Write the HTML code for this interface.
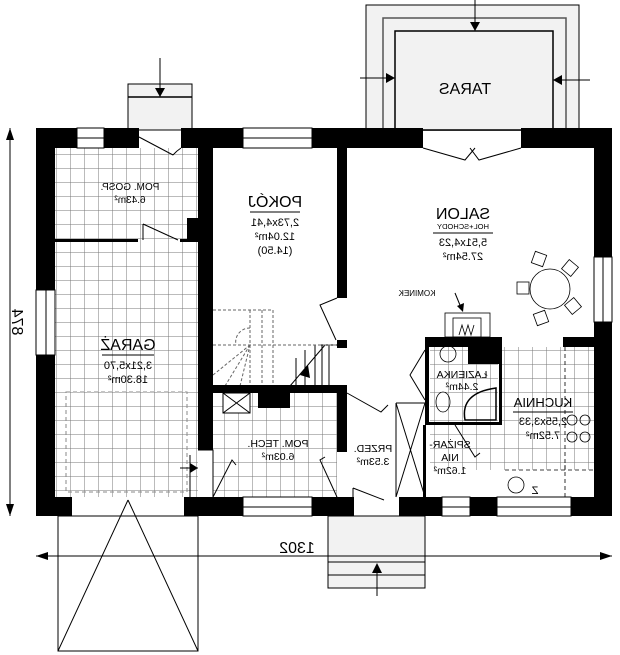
<!DOCTYPE html>
<html><head><meta charset="utf-8"><style>
html,body{margin:0;padding:0;background:#fff;}
svg{display:block;}
text{font-family:"Liberation Sans",sans-serif;fill:#000;}
</style></head><body>
<svg width="620" height="655" viewBox="0 0 620 655" xmlns="http://www.w3.org/2000/svg">
<defs>
<pattern id="g" width="14" height="14" patternUnits="userSpaceOnUse">
<rect width="14" height="14" fill="#fff"/>
<path d="M0 0H14M0 0V14" stroke="#777" stroke-width="1"/>
</pattern>
</defs>
<!-- terrace -->
<rect x="366" y="5" width="213" height="125" fill="#f2f2f2" stroke="#000" stroke-width="1"/>
<rect x="383" y="18" width="183" height="112" fill="#f2f2f2" stroke="#555" stroke-width="1.5"/>
<rect x="395" y="31" width="158" height="99" fill="#f2f2f2" stroke="#000" stroke-width="1.5"/>
<line x1="475" y1="0" x2="475" y2="31" stroke="#000"/><path d="M470 22L480 22L475 31Z"/>
<line x1="360" y1="78" x2="395" y2="78" stroke="#000"/><path d="M386 73L395 78L386 83Z"/>
<line x1="590" y1="80" x2="553" y2="80" stroke="#000"/><path d="M562 75L553 80L562 85Z"/>
<g transform="translate(465,94) scale(-1,1)"><text x="0" y="0" font-size="16" text-anchor="middle">TARAS</text></g>
<!-- back step -->
<rect x="128" y="84" width="64" height="46" fill="#f2f2f2" stroke="#000"/>
<line x1="128" y1="97" x2="192" y2="97" stroke="#000" stroke-width="1.5"/>
<line x1="160" y1="58" x2="160" y2="97" stroke="#000"/><path d="M155 88L165 88L160 97Z"/>
<!-- front step -->
<rect x="328" y="516" width="97" height="72" fill="#f2f2f2" stroke="#000"/>
<line x1="328" y1="562" x2="425" y2="562" stroke="#000"/>
<line x1="328" y1="575" x2="425" y2="575" stroke="#000"/>
<line x1="377" y1="596" x2="377" y2="564" stroke="#000"/><path d="M372 573L382 573L377 563Z"/>
<!-- carport -->
<rect x="58" y="516" width="140" height="135" fill="none" stroke="#000"/>
<path d="M128 500L58 651M128 500L198 651" stroke="#000" fill="none"/>
<!-- floors -->
<rect x="55" y="148" width="143" height="349" fill="url(#g)"/>
<rect x="213" y="393" width="124" height="104" fill="url(#g)"/>
<rect x="430" y="347" width="68" height="75" fill="url(#g)"/>
<rect x="501" y="347" width="93" height="123" fill="url(#g)"/>
<rect x="430" y="425" width="71" height="45" fill="url(#g)"/>
<rect x="66" y="392" width="121" height="100" fill="none" stroke="#888" stroke-dasharray="4,3"/>
<!-- stairs -->
<g stroke="#000" stroke-width="1" fill="none">
<path d="M315 345V386M322 345V386M329 345V386M305 350V386M296 358V386"/>
<path d="M290 386L325 345M320 345H347"/>
</g>
<path d="M300 375L308 365L310 378Z"/>
<g stroke="#666" stroke-dasharray="3,2" fill="none">
<path d="M213 310H273V386M213 345H337M250 310V386M262 310V386"/>
<path d="M250 328A14 14 0 0 0 236 345"/>
<path d="M213 375L250 345M225 386L250 345M240 386L250 345"/>
</g>
<!-- walls -->
<g fill="#000">
<rect x="36" y="128" width="41" height="20"/><rect x="104" y="128" width="35" height="20"/>
<rect x="181" y="128" width="62" height="20"/><rect x="312" y="128" width="111" height="20"/>
<rect x="521" y="128" width="91" height="20"/>
<rect x="36" y="128" width="19" height="162"/><rect x="36" y="355" width="19" height="161"/>
<rect x="594" y="128" width="18" height="129"/><rect x="594" y="322" width="18" height="194"/>
<rect x="36" y="497" width="36" height="19"/><rect x="184" y="497" width="59" height="19"/>
<rect x="312" y="497" width="42" height="19"/><rect x="399" y="497" width="43" height="19"/>
<rect x="470" y="497" width="27" height="19"/><rect x="571" y="497" width="41" height="19"/>
<rect x="198" y="148" width="15" height="302"/>
<rect x="187" y="218" width="11" height="22"/>
<rect x="337" y="148" width="10" height="150"/>
<rect x="337" y="340" width="10" height="8"/>
<rect x="213" y="385" width="134" height="8"/>
<rect x="337" y="385" width="10" height="67"/>
<rect x="258" y="393" width="32" height="15"/>
<rect x="425" y="337" width="76" height="10"/><rect x="468" y="337" width="33" height="27"/>
<rect x="425" y="337" width="4" height="88"/><rect x="499" y="337" width="3" height="88"/>
<rect x="425" y="422" width="77" height="3"/>
<rect x="563" y="337" width="31" height="10"/>
<rect x="423" y="425" width="3" height="72"/>
<rect x="55" y="239" width="83" height="3"/><rect x="180" y="239" width="18" height="3"/>
</g>
<!-- windows -->
<g fill="#fff" stroke="#000" stroke-width="1">
<rect x="77" y="128" width="27" height="20"/><line x1="77" y1="138" x2="104" y2="138"/>
<rect x="243" y="128" width="69" height="20"/><line x1="243" y1="138" x2="312" y2="138"/>
<rect x="36" y="290" width="19" height="65"/><line x1="46" y1="290" x2="46" y2="355"/>
<rect x="594" y="257" width="18" height="65"/><line x1="603" y1="257" x2="603" y2="322"/>
<rect x="243" y="497" width="69" height="19"/><line x1="243" y1="507" x2="312" y2="507"/>
<rect x="442" y="497" width="28" height="19"/><line x1="442" y1="507" x2="470" y2="507"/>
<rect x="497" y="497" width="74" height="19"/><line x1="497" y1="507" x2="571" y2="507"/>
</g>
<!-- doors -->
<g stroke="#000" fill="none" stroke-width="1">
<path d="M139 137L173 155M181 148A40 40 0 0 0 173 155"/>
<path d="M423 148L465 160L475 148M521 148L479 160L470 148"/>
<path d="M143 224L178 240M143 224V240"/>
<path d="M337 298L320 305L336 340"/>
<path d="M347 393L381 412L388 405"/>
<path d="M353 488L384 500M353 488V497"/>
<path d="M425 350L410 375L425 400"/>
<path d="M455 425L475 457L480 453"/>
<path d="M396 403H425M396 403L425 497M425 403L396 497M396 403V497"/>
<path d="M198 450H213V497M190 455V497"/>
<path d="M213 497L232 460L236 465"/><path d="M337 497L320 460L325 457"/>
</g>
<line x1="180" y1="468" x2="198" y2="468" stroke="#000"/><path d="M190 463L198 468L190 473Z"/>
<rect x="223" y="393" width="27" height="20" fill="#fff" stroke="#000"/><path d="M223 393L250 413M250 393L223 413" stroke="#000"/>
<!-- fixtures -->
<g stroke="#000" fill="none" stroke-width="0.8">
<path d="M565 347V470M505 470H594" stroke-dasharray="4,3"/>
<path d="M565 465V497" stroke-dasharray="4,3"/>
<circle cx="572" cy="420" r="5"/><circle cx="585" cy="420" r="5"/><circle cx="572" cy="437" r="5"/><circle cx="585" cy="437" r="5"/>
<circle cx="516" cy="485" r="8"/>
<circle cx="448" cy="354" r="8"/><ellipse cx="443" cy="402" rx="7" ry="10"/>
<path d="M465 420Q460 393 496 388L496 420Z" stroke-width="1.5"/>
<rect x="445" y="313" width="45" height="24"/><rect x="453" y="318" width="28" height="19"/>
<path d="M459 335L462 325L465 335L468 325L471 335L474 325"/>
<circle cx="550" cy="289" r="20"/>
<rect x="533" y="253" width="12" height="12" transform="rotate(20 539 259)"/>
<rect x="564" y="262" width="12" height="12" transform="rotate(40 570 268)"/>
<rect x="517" y="282" width="12" height="12"/>
<rect x="567" y="300" width="12" height="12" transform="rotate(-40 573 306)"/>
<rect x="535" y="312" width="12" height="12" transform="rotate(-20 541 318)"/>
</g>
<line x1="455" y1="293" x2="462" y2="310" stroke="#000"/><path d="M457 306L463 312L464 303Z"/>
<!-- dims -->
<line x1="36" y1="556" x2="612" y2="556" stroke="#000"/>
<path d="M36 556L48 552L48 560Z M612 556L600 552L600 560Z"/>
<line x1="10" y1="128" x2="10" y2="516" stroke="#000"/>
<path d="M10 128L6 140L14 140Z M10 516L6 504L14 504Z"/>
<!-- labels (mirrored) -->
<g font-size="11">
<g transform="translate(130,190) scale(-1,1)"><text text-anchor="middle" font-size="10">POM. GOSP.</text><text y="13" text-anchor="middle" font-size="10">6.43m²</text></g>
<g transform="translate(275,207) scale(-1,1)"><text text-anchor="middle" font-size="16">POKÓJ</text><line x1="-25" y1="5" x2="25" y2="5" stroke="#000"/><text y="19" text-anchor="middle">2,73x4,41</text><text y="33" text-anchor="middle">12.04m²</text><text y="47" text-anchor="middle">(14.50)</text></g>
<g transform="translate(128,350) scale(-1,1)"><text text-anchor="middle" font-size="16">GARAŻ</text><line x1="-26" y1="5" x2="26" y2="5" stroke="#000"/><text y="19" text-anchor="middle">3,21x5,70</text><text y="33" text-anchor="middle">18.30m²</text></g>
<g transform="translate(463,219) scale(-1,1)"><text text-anchor="middle" font-size="16">SALON</text><text y="10" text-anchor="middle" font-size="7.5">HOL+SCHODY</text><line x1="-30" y1="14" x2="30" y2="14" stroke="#000"/><text y="27" text-anchor="middle">5,51x4,23</text><text y="41" text-anchor="middle">27.54m²</text></g>
<g transform="translate(417,296) scale(-1,1)"><text text-anchor="middle" font-size="8">KOMINEK</text></g>
<g transform="translate(462,378) scale(-1,1)"><text text-anchor="middle" font-size="10.5">ŁAZIENKA</text><text y="12" text-anchor="middle" font-size="10.5">2.44m²</text></g>
<g transform="translate(543,407) scale(-1,1)"><text text-anchor="middle" font-size="13">KUCHNIA</text><line x1="-30" y1="5" x2="30" y2="5" stroke="#000"/><text y="18" text-anchor="middle">2,55x3,33</text><text y="32" text-anchor="middle">7.52m²</text></g>
<g transform="translate(450,448) scale(-1,1)"><text text-anchor="middle" font-size="10.5">SPIŻAR-</text><text y="13" text-anchor="middle" font-size="10.5">NIA</text><text y="26" text-anchor="middle" font-size="10.5">1.62m²</text></g>
<g transform="translate(373,452) scale(-1,1)"><text text-anchor="middle" font-size="10.5">PRZED.</text><text y="13" text-anchor="middle" font-size="10.5">3.53m²</text></g>
<g transform="translate(278,447) scale(-1,1)"><text text-anchor="middle" font-size="10.5">POM. TECH.</text><text y="13" text-anchor="middle" font-size="10.5">6.03m²</text></g>
<g transform="translate(535,494) scale(-1,1)"><text text-anchor="middle">Z</text></g>
<g transform="translate(297,553) scale(-1,1)"><text text-anchor="middle" font-size="16">1302</text></g>
<g transform="translate(12,322) rotate(90) scale(-1,1)"><text text-anchor="middle" font-size="16">874</text></g>
</g>
</svg>
</body></html>
